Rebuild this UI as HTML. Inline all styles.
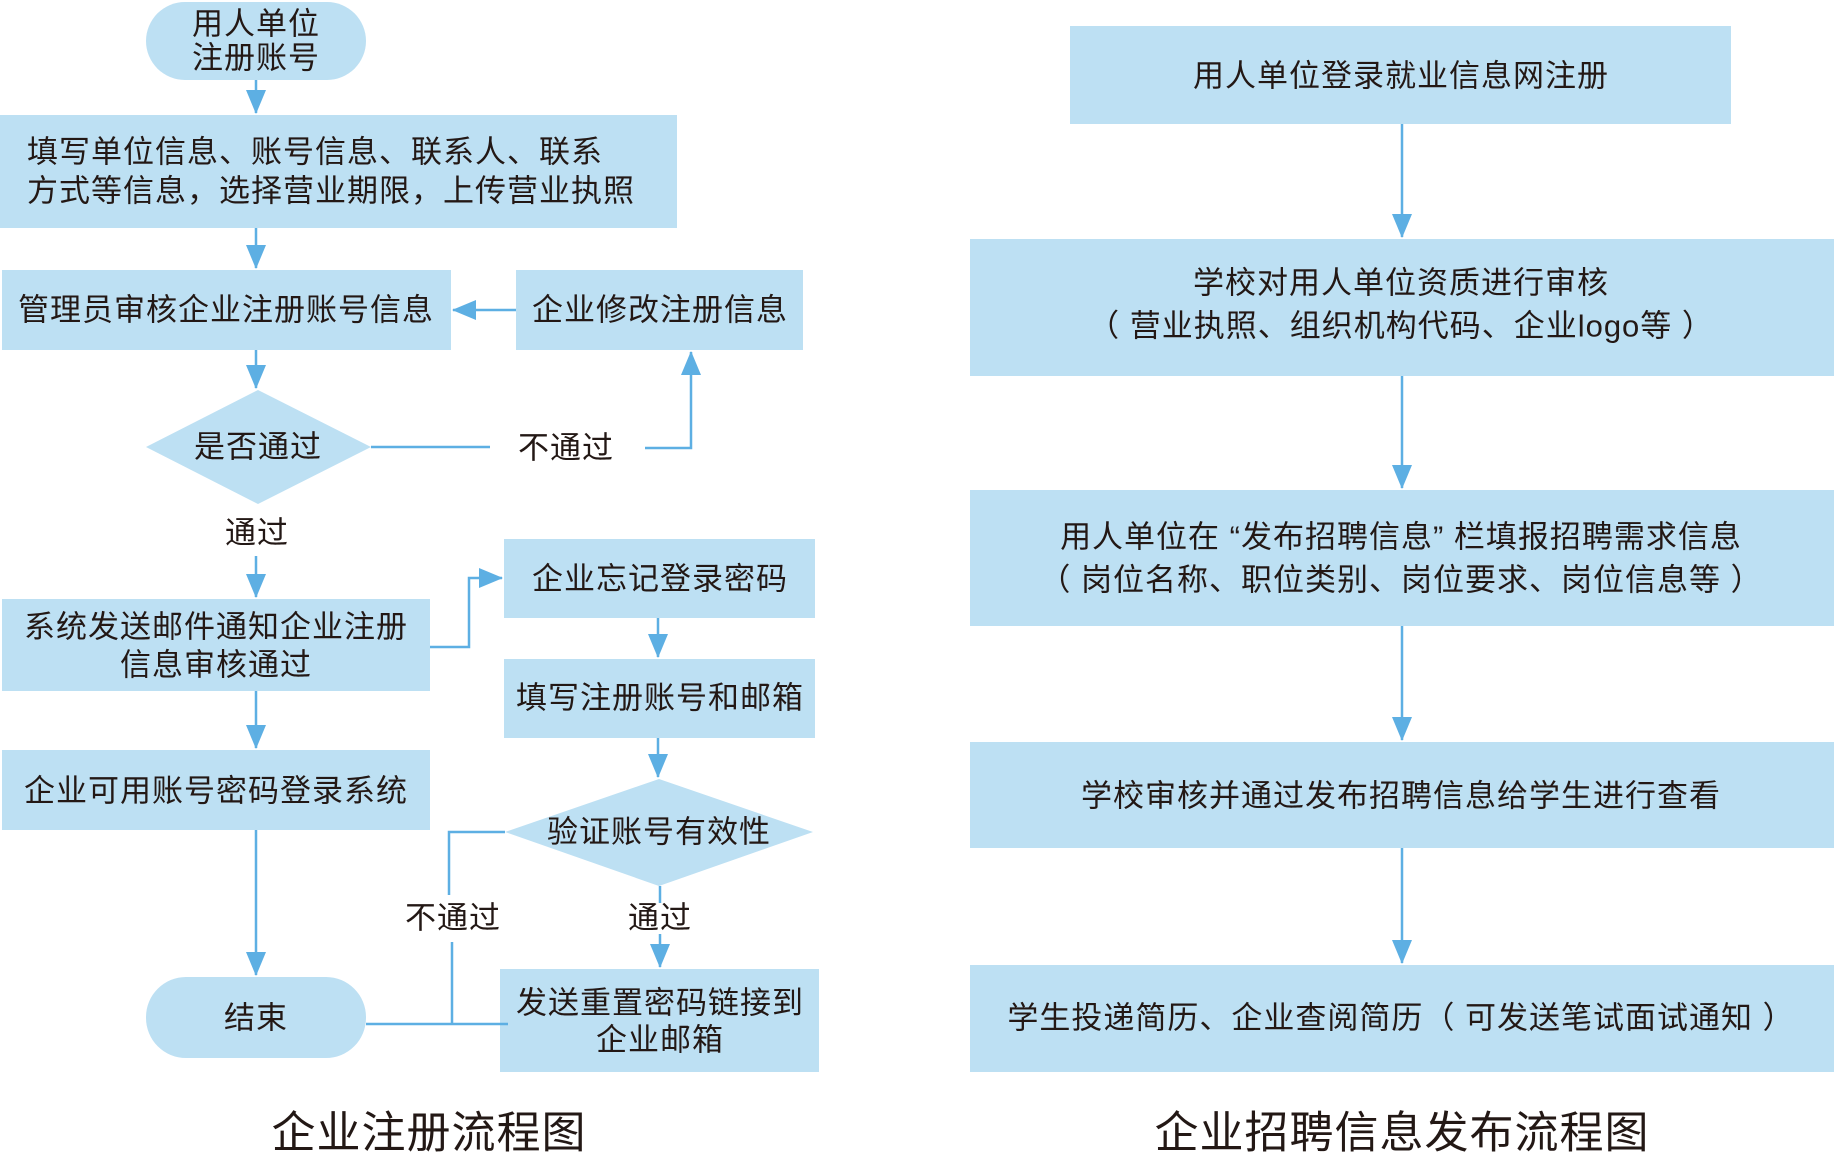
<!DOCTYPE html>
<html><head><meta charset="utf-8"><style>
html,body{margin:0;padding:0;background:#fff;}
svg{display:block;}
text{font-family:"Liberation Sans","Noto Sans CJK SC",sans-serif;fill:#231815;text-anchor:middle;dominant-baseline:central;letter-spacing:1px;}
.b{fill:#bde0f3;}
.l{stroke:#5dafe3;stroke-width:2.5;fill:none;}
.a{fill:#5dafe3;}
</style></head><body>
<svg width="1834" height="1156" viewBox="0 0 1834 1156" xmlns="http://www.w3.org/2000/svg">
<defs>
<marker id="ar" markerWidth="24" markerHeight="20" refX="23" refY="10" orient="auto" markerUnits="userSpaceOnUse" viewBox="0 0 24 20"><path d="M0,0 L24,10 L0,20 z" class="a"/></marker>
</defs>
<g font-size="31">
<!-- Left flow -->
<rect class="b" x="146" y="2" width="220" height="78" rx="39"/>
<text x="256" y="24">用人单位</text><text x="256" y="58">注册账号</text>

<rect class="b" x="0" y="115" width="677" height="113"/>
<text x="27" y="152" style="text-anchor:start">填写单位信息、账号信息、联系人、联系</text>
<text x="27" y="191" style="text-anchor:start">方式等信息，选择营业期限，上传营业执照</text>

<rect class="b" x="2" y="270" width="449" height="80"/>
<text x="226" y="310">管理员审核企业注册账号信息</text>
<rect class="b" x="516" y="270" width="287" height="80"/>
<text x="660" y="310">企业修改注册信息</text>

<polygon class="b" points="146,447 258,390 371,447 258,504"/>
<text x="258" y="447">是否通过</text>
<text x="566" y="448">不通过</text>
<text x="257" y="533">通过</text>

<rect class="b" x="2" y="599" width="428" height="92"/>
<text x="216" y="627">系统发送邮件通知企业注册</text>
<text x="216" y="665">信息审核通过</text>

<rect class="b" x="504" y="539" width="311" height="79"/>
<text x="660" y="579">企业忘记登录密码</text>
<rect class="b" x="504" y="659" width="311" height="79"/>
<text x="660" y="698">填写注册账号和邮箱</text>

<polygon class="b" points="505,832 659,779 813,832 659,886"/>
<text x="659" y="832">验证账号有效性</text>
<text x="660" y="918">通过</text>
<text x="453" y="918">不通过</text>

<rect class="b" x="500" y="969" width="319" height="103"/>
<text x="660" y="1003">发送重置密码链接到</text>
<text x="660" y="1040">企业邮箱</text>

<rect class="b" x="2" y="750" width="428" height="80"/>
<text x="216" y="791">企业可用账号密码登录系统</text>

<rect class="b" x="146" y="977" width="220" height="81" rx="40"/>
<text x="256" y="1018">结束</text>

<text x="429" y="1133" font-size="44">企业注册流程图</text>

<!-- left connectors -->
<path class="l" d="M256,80 V113" marker-end="url(#ar)"/>
<path class="l" d="M256,228 V268" marker-end="url(#ar)"/>
<path class="l" d="M516,310 H453" marker-end="url(#ar)"/>
<path class="l" d="M256,350 V388" marker-end="url(#ar)"/>
<path class="l" d="M371,447 H490"/>
<path class="l" d="M645,448 H691 V352" marker-end="url(#ar)"/>
<path class="l" d="M256,556 V597" marker-end="url(#ar)"/>
<path class="l" d="M430,647 H469 V578 H502" marker-end="url(#ar)"/>
<path class="l" d="M658,618 V657" marker-end="url(#ar)"/>
<path class="l" d="M658,738 V777" marker-end="url(#ar)"/>
<path class="l" d="M660,886 V903"/>
<path class="l" d="M660,934 V967" marker-end="url(#ar)"/>
<path class="l" d="M505,832 H449 V895"/>
<path class="l" d="M452,942 V1024"/>
<path class="l" d="M366,1024 H508"/>
<path class="l" d="M256,691 V748" marker-end="url(#ar)"/>
<path class="l" d="M256,830 V975" marker-end="url(#ar)"/>

<!-- Right flow -->
<rect class="b" x="1070" y="26" width="661" height="98"/>
<text x="1401" y="76">用人单位登录就业信息网注册</text>
<rect class="b" x="970" y="239" width="864" height="137"/>
<text x="1401" y="283">学校对用人单位资质进行审核</text>
<text x="1401" y="326">（ 营业执照、组织机构代码、企业logo等 ）</text>
<rect class="b" x="970" y="490" width="864" height="136"/>
<text x="1401" y="537">用人单位在 “发布招聘信息” 栏填报招聘需求信息</text>
<text x="1401" y="580">（ 岗位名称、职位类别、岗位要求、岗位信息等 ）</text>
<rect class="b" x="970" y="742" width="864" height="106"/>
<text x="1401" y="796">学校审核并通过发布招聘信息给学生进行查看</text>
<rect class="b" x="970" y="965" width="864" height="107"/>
<text x="1401" y="1018">学生投递简历、企业查阅简历（ 可发送笔试面试通知 ）</text>
<text x="1402" y="1133" font-size="44">企业招聘信息发布流程图</text>

<path class="l" d="M1402,124 V237" marker-end="url(#ar)"/>
<path class="l" d="M1402,376 V488" marker-end="url(#ar)"/>
<path class="l" d="M1402,626 V740" marker-end="url(#ar)"/>
<path class="l" d="M1402,848 V963" marker-end="url(#ar)"/>
</g>
</svg>
</body></html>
